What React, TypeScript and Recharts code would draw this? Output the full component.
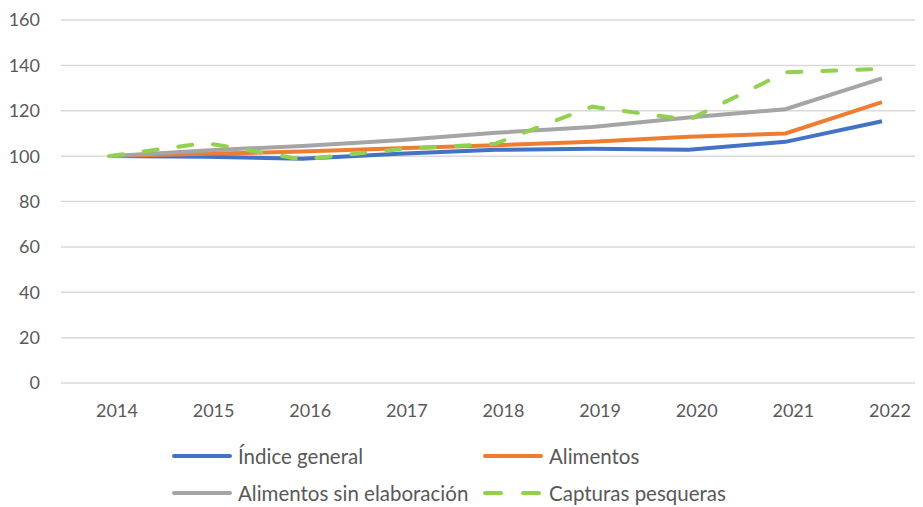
import React from 'react';
import { LineChart, Line, XAxis, YAxis, CartesianGrid, Legend } from 'recharts';

const years = ['2014', '2015', '2016', '2017', '2018', '2019', '2020', '2021', '2022'];
const indiceGeneral = [100, 99.7, 98.8, 101, 102.8, 103.2, 102.8, 106.3, 115.4];
const alimentos = [100, 101, 102, 103.5, 104.8, 106.3, 108.5, 110, 123.8];
const sinElaboracion = [100, 102.5, 104.5, 107, 110.3, 112.8, 117, 120.7, 134.3];
const capturas = [100, 105.8, 98.5, 103, 105.5, 121.8, 116, 136.9, 138.5];
const yTicks = [0, 20, 40, 60, 80, 100, 120, 140, 160];

const data = years.map((y, i) => ({
  year: y,
  general: indiceGeneral[i],
  alimentos: alimentos[i],
  sinElab: sinElaboracion[i],
  capturas: capturas[i],
}));

const FONT = 'Lato, "Noto Sans", sans-serif';
const TEXT = '#595959';

const legendItems = [
  { label: 'Índice general', color: '#4472C4', dash: false, x: 162, y: 33 },
  { label: 'Alimentos', color: '#ED7D31', dash: false, x: 473, y: 33 },
  { label: 'Alimentos sin elaboración', color: '#A5A5A5', dash: false, x: 162, y: 70 },
  { label: 'Capturas pesqueras', color: '#92D050', dash: true, x: 473, y: 70 },
];

const LegendBox = () => (
  <div style={{ position: 'relative', width: 930, height: 84 }}>
    {legendItems.map((it) => (
      <div
        key={it.label}
        style={{
          position: 'absolute',
          left: it.x,
          top: it.y - 12,
          height: 24,
          lineHeight: '24px',
          display: 'flex',
          alignItems: 'center',
          fontFamily: FONT,
          fontSize: 20.5,
          color: TEXT,
          whiteSpace: 'nowrap',
        }}
      >
        <svg width={64} height={10} style={{ marginRight: 4 }}>
          <line
            x1={4}
            y1={5}
            x2={60}
            y2={5}
            stroke={it.color}
            strokeWidth={4}
            strokeLinecap="round"
            strokeDasharray={it.dash ? '16 22' : undefined}
          />
        </svg>
        {it.label}
      </div>
    ))}
  </div>
);

const XTick = (props: any) => {
  const { x, y, payload } = props;
  return (
    <text x={x + 8} y={y} dy={26} textAnchor="middle" fill={TEXT} fontSize={18} fontFamily={FONT}>
      {payload.value}
    </text>
  );
};

export default function App() {
  return (
    <div style={{ width: 915, height: 499, overflow: 'hidden', position: 'relative' }}>
      <LineChart
        width={930}
        height={499}
        data={data}
        margin={{ top: 12, right: 8, left: 0, bottom: 0 }}
      >
        <CartesianGrid vertical={false} stroke="#D9D9D9" strokeWidth={1.5} />
        <XAxis
          dataKey="year"
          axisLine={false}
          tickLine={false}
          height={40}
          padding={{ left: 48, right: 48 }}
          tick={<XTick />}
          interval={0}
        />
        <YAxis
          domain={[0, 160]}
          ticks={yTicks}
          width={53}
          axisLine={false}
          tickLine={false}
          tickMargin={15}
          tick={{ fill: TEXT, fontSize: 18, fontFamily: FONT }}
        />
        <Legend
          verticalAlign="bottom"
          wrapperStyle={{ left: 0, width: 930 }}
          content={() => <LegendBox />}
        />
        <Line type="linear" dataKey="general" name="Índice general" stroke="#4472C4" strokeWidth={4} dot={false} isAnimationActive={false} />
        <Line type="linear" dataKey="alimentos" name="Alimentos" stroke="#ED7D31" strokeWidth={4} dot={false} isAnimationActive={false} />
        <Line type="linear" dataKey="sinElab" name="Alimentos sin elaboración" stroke="#A5A5A5" strokeWidth={4} dot={false} isAnimationActive={false} />
        <Line
          type="linear"
          dataKey="capturas"
          name="Capturas pesqueras"
          stroke="#92D050"
          strokeWidth={4}
          strokeDasharray="14 21"
          strokeLinecap="round"
          dot={false}
          isAnimationActive={false}
        />
      </LineChart>
    </div>
  );
}
